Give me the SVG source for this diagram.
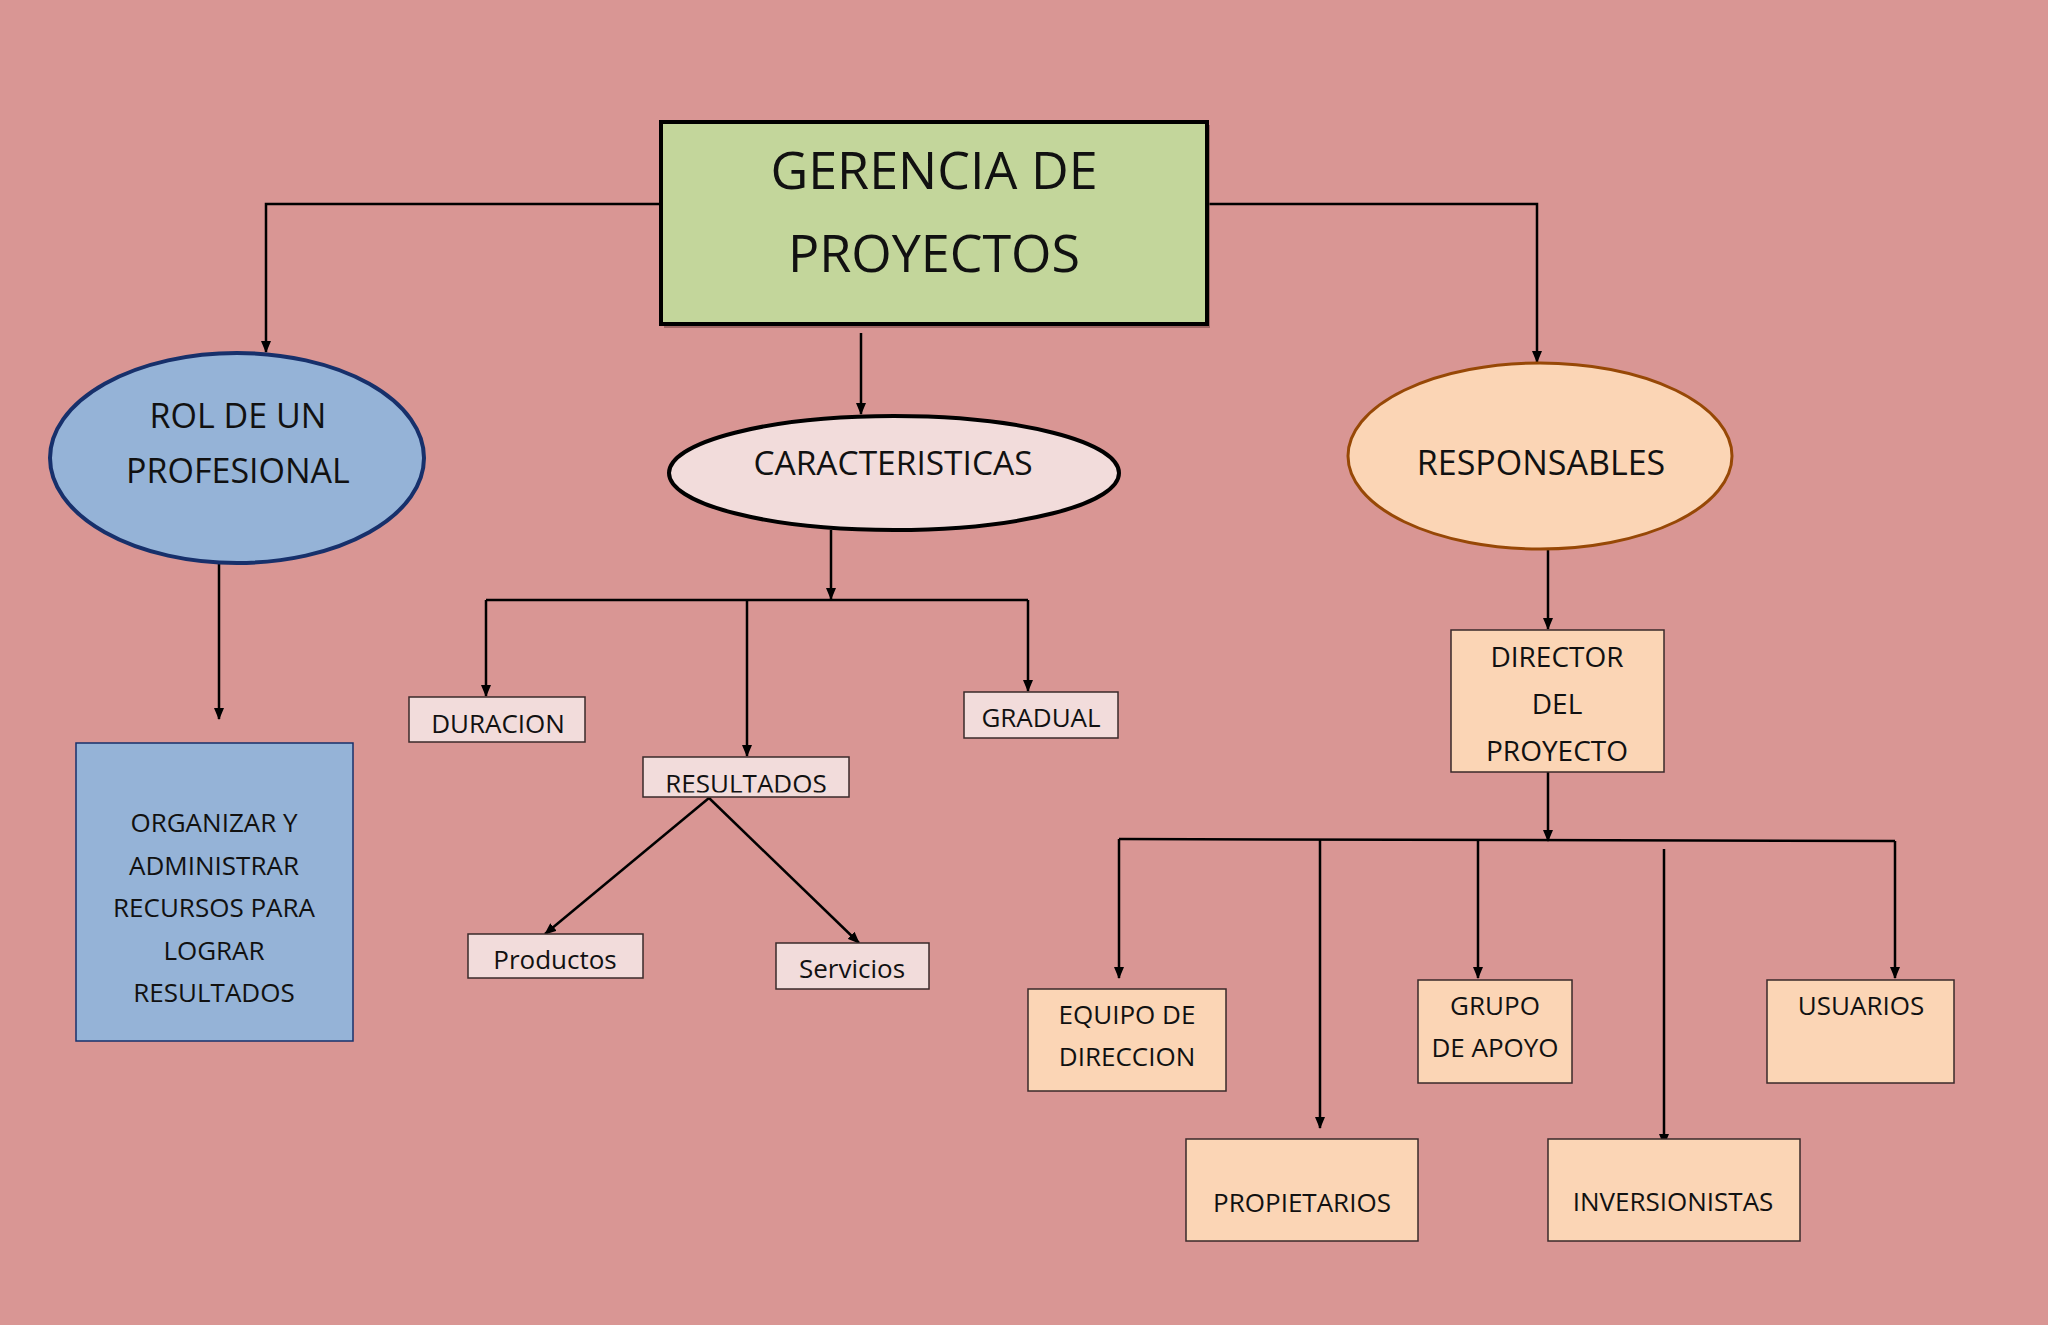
<svg xmlns="http://www.w3.org/2000/svg" width="2048" height="1325" viewBox="0 0 2048 1325">
<style>
text{font-family:"Open Sans","Liberation Sans",sans-serif;fill:#111;text-anchor:middle}
.pink{fill:#f2dcdb;stroke:#3a2a2a;stroke-width:1.5}
.peach{fill:#fbd5b5;stroke:#3a2a2a;stroke-width:1.5}
.ln{fill:none;stroke:#000;stroke-width:2.5}
.ar{marker-end:url(#ah)}
.t26{font-size:26px}
</style>
<defs>
<marker id="ah" markerWidth="12" markerHeight="10" refX="11" refY="5" orient="auto" markerUnits="userSpaceOnUse">
<path d="M0,0 L12,5 L0,10 Z" fill="#000"/>
</marker>
<clipPath id="resclip"><rect x="643" y="757" width="206" height="35.5"/></clipPath>
</defs>
<rect width="2048" height="1325" fill="#d99694"/>

<g id="connectors">
<path class="ln ar" d="M661,204 H266 V352"/>
<path class="ln ar" d="M1207,204 H1537 V362"/>
<path class="ln ar" d="M861,333 V414"/>
<path class="ln ar" d="M219,564 V719"/>
<path class="ln ar" d="M831,530 V599"/>
<path class="ln" d="M486,600 H1028"/>
<path class="ln ar" d="M486,600 V696"/>
<path class="ln ar" d="M747,600 V756"/>
<path class="ln ar" d="M1028,600 V691"/>
<path class="ln ar" d="M709,798 L545,934"/>
<path class="ln ar" d="M709,798 L859,943"/>
<path class="ln ar" d="M1548,550 V629"/>
<path class="ln ar" d="M1548,772 V841"/>
<path class="ln" d="M1119,839 L1895,841"/>
<path class="ln ar" d="M1119,839 V978"/>
<path class="ln ar" d="M1320,840 V1128"/>
<path class="ln ar" d="M1478,840 V978"/>
<path class="ln ar" d="M1664,849 V1145"/>
<path class="ln ar" d="M1895,841 V978"/>
</g>

<g id="gerencia">
<rect x="664" y="125" width="546" height="203" fill="#7a4a48" opacity="0.6"/>
<rect x="661" y="122" width="546" height="202" fill="#c3d69b" stroke="#000" stroke-width="4"/>
<text x="934" y="189" font-size="52">GERENCIA DE</text>
<text x="934" y="272" font-size="52">PROYECTOS</text>
</g>

<g id="rol">
<ellipse cx="237" cy="458" rx="187" ry="105" fill="#95b3d7" stroke="#17306b" stroke-width="4"/>
<text x="238" y="428" font-size="34">ROL DE UN</text>
<text x="238" y="483" font-size="34">PROFESIONAL</text>
</g>

<g id="organizar">
<rect x="76" y="743" width="277" height="298" fill="#95b3d7" stroke="#17306b" stroke-width="1.5"/>
<text class="t26" x="214" y="832">ORGANIZAR Y</text>
<text class="t26" x="214" y="875">ADMINISTRAR</text>
<text class="t26" x="214" y="917">RECURSOS PARA</text>
<text class="t26" x="214" y="960">LOGRAR</text>
<text class="t26" x="214" y="1002">RESULTADOS</text>
</g>

<g id="caracteristicas">
<ellipse cx="894" cy="473" rx="225" ry="57" fill="#f2dcdb" stroke="#000" stroke-width="4"/>
<text x="893" y="475" font-size="33.5">CARACTERISTICAS</text>
</g>

<g id="duracion">
<rect class="pink" x="409" y="697" width="176" height="45"/>
<text class="t26" x="498" y="733">DURACION</text>
</g>

<g id="gradual">
<rect class="pink" x="964" y="692" width="154" height="46"/>
<text class="t26" x="1041" y="727">GRADUAL</text>
</g>

<g id="resultados">
<rect class="pink" x="643" y="757" width="206" height="40"/>
<text x="746" y="793" font-size="26" clip-path="url(#resclip)">RESULTADOS</text>
</g>

<g id="productos">
<rect class="pink" x="468" y="934" width="175" height="44"/>
<text class="t26" x="555" y="969">Productos</text>
</g>

<g id="servicios">
<rect class="pink" x="776" y="943" width="153" height="46"/>
<text class="t26" x="852" y="978">Servicios</text>
</g>

<g id="responsables">
<ellipse cx="1540" cy="456" rx="192" ry="93" fill="#fbd5b5" stroke="#974806" stroke-width="3"/>
<text x="1541" y="475" font-size="34">RESPONSABLES</text>
</g>

<g id="director">
<rect class="peach" x="1451" y="630" width="213" height="142"/>
<text x="1557" y="667" font-size="28">DIRECTOR</text>
<text x="1557" y="714" font-size="28">DEL</text>
<text x="1557" y="761" font-size="28">PROYECTO</text>
</g>

<g id="equipo">
<rect class="peach" x="1028" y="989" width="198" height="102"/>
<text class="t26" x="1127" y="1024">EQUIPO DE</text>
<text class="t26" x="1127" y="1066">DIRECCION</text>
</g>

<g id="grupo">
<rect class="peach" x="1418" y="980" width="154" height="103"/>
<text class="t26" x="1495" y="1015">GRUPO</text>
<text class="t26" x="1495" y="1057">DE APOYO</text>
</g>

<g id="usuarios">
<rect class="peach" x="1767" y="980" width="187" height="103"/>
<text class="t26" x="1861" y="1015">USUARIOS</text>
</g>

<g id="propietarios">
<rect class="peach" x="1186" y="1139" width="232" height="102"/>
<text class="t26" x="1302" y="1212">PROPIETARIOS</text>
</g>

<g id="inversionistas">
<rect class="peach" x="1548" y="1139" width="252" height="102"/>
<text class="t26" x="1673" y="1211">INVERSIONISTAS</text>
</g>
</svg>
